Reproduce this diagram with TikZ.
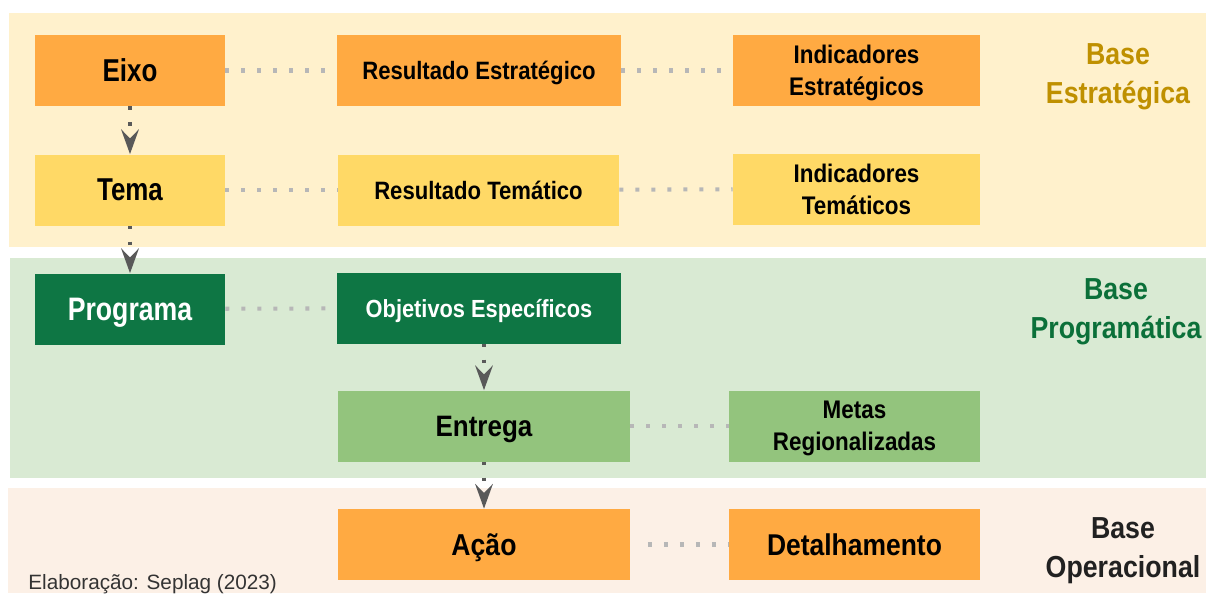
\documentclass[tikz,border=0pt]{standalone}
\usepackage{fontspec}
\setmainfont{Liberation Sans}
\newfontfamily\condfont[FakeStretch=0.82]{Liberation Sans}
\newfontfamily\condfontb[FakeStretch=0.88]{Liberation Sans}
\usetikzlibrary{arrows.meta}
\definecolor{estbg}{HTML}{FFF1CC}
\definecolor{progbg}{HTML}{D9EAD3}
\definecolor{operbg}{HTML}{FCF0E6}
\definecolor{laranja}{HTML}{FFAA42}
\definecolor{amarelo}{HTML}{FFD966}
\definecolor{verdeesc}{HTML}{0E7644}
\definecolor{verdecla}{HTML}{93C47D}
\definecolor{ouro}{HTML}{BF9000}
\definecolor{verdetxt}{HTML}{0B7039}
\definecolor{pontos}{HTML}{B7B7B7}
\definecolor{seta}{HTML}{595959}
\tikzset{box/.style={rectangle, inner sep=0pt, minimum height=1.42cm, text depth=0pt, align=center, font=\condfontb\bfseries}}
\tikzset{link/.style={draw=pontos, line width=2.3pt, dash pattern=on 2.3pt off 6.8pt}}
\tikzset{flow/.style={draw=seta, line width=2pt, dash pattern=on 2pt off 7pt, -{Stealth[length=14pt, width=10pt, inset=5pt]}}}
\tikzset{base/.style={align=center, text depth=0pt, font=\condfontb\bfseries\fontsize{17.3}{22.5}\selectfont}}

\begin{document}
\begin{tikzpicture}[x=0.02cm, y=-0.02cm]
            \useasboundingbox (0, 0) rectangle (1206, 593);
            % faixas
            \fill[estbg] (9, 13) rectangle (1206, 247);
            \fill[progbg] (10, 258) rectangle (1206, 478);
            \fill[operbg] (8, 488) rectangle (1206, 593);
            % base estrategica
            \node[box, fill=laranja, minimum width=3.8cm, font=\condfont\bfseries\fontsize{18}{20}\selectfont] (eixo) at (130, 70.5) {Eixo};
            \node[box, fill=laranja, minimum width=5.68cm, font=\condfontb\bfseries\fontsize{14.3}{16}\selectfont] (resest) at (479, 70.5) {Resultado Estratégico};
            \node[box, fill=laranja, minimum width=4.94cm, font=\condfontb\bfseries\fontsize{14.5}{18}\selectfont] (indest) at (856.5, 70.5) {Indicadores\\Estratégicos};
            \node[box, fill=amarelo, minimum width=3.8cm, font=\condfont\bfseries\fontsize{18}{20}\selectfont] (tema) at (130, 190) {Tema};
            \node[box, fill=amarelo, minimum width=5.62cm, font=\condfontb\bfseries\fontsize{14.3}{16}\selectfont] (restem) at (478.5, 190) {Resultado Temático};
            \node[box, fill=amarelo, minimum width=4.94cm, font=\condfontb\bfseries\fontsize{14.5}{18}\selectfont] (indtem) at (856.5, 189) {Indicadores\\Temáticos};
            % base programatica
            \node[box, fill=verdeesc, text=white, minimum width=3.8cm, font=\condfont\bfseries\fontsize{18.5}{20}\selectfont] (programa) at (130, 309) {Programa};
            \node[box, fill=verdeesc, text=white, minimum width=5.68cm, font=\condfontb\bfseries\fontsize{14.1}{16}\selectfont] (objetivos) at (479, 308) {Objetivos Específicos};
            \node[box, fill=verdecla, minimum width=5.84cm, font=\condfontb\bfseries\fontsize{16.8}{20}\selectfont] (entrega) at (484, 426) {Entrega};
            \node[box, fill=verdecla, minimum width=5.02cm, font=\condfontb\bfseries\fontsize{14.5}{18}\selectfont] (metas) at (854.5, 426) {Metas\\Regionalizadas};
            % base operacional
            \node[box, fill=laranja, minimum width=5.84cm, font=\condfontb\bfseries\fontsize{17.2}{20}\selectfont] (acao) at (484, 544.5) {Ação};
            \node[box, fill=laranja, minimum width=5.02cm, font=\condfontb\bfseries\fontsize{17.1}{20}\selectfont] (detalhe) at (854.5, 544.5) {Detalhamento};
            % rotulos
            \node[base, text=ouro] (lblest) at (1118, 73.5) {Base\\Estratégica};
            \node[base, text=verdetxt] (lblprog) at (1116, 308.5) {Base\\Programática};
            \node[base, text=black!87] (lbloper) at (1123, 547.5) {Base\\Operacional};
            \node[anchor=base west, inner sep=0pt, text=black!80, font=\fontsize{11.8}{13}\selectfont] (fonte) at (28, 589) {Elaboração: Seplag (2023)};
            % ligacoes
            \draw[link] (eixo) -- (resest);
            \draw[link] (resest) -- (indest);
            \draw[link] (tema) -- (restem);
            \draw[link] (restem) -- (indtem);
            \draw[link] (programa) -- (objetivos);
            \draw[link] (entrega) -- (metas);
            \draw[link, shorten <=10] (acao) -- (detalhe);
            % setas
            \draw[flow] (eixo) -- (tema);
            \draw[flow] (tema) -- (programa);
            \draw[flow] (objetivos.south -| entrega) -- (entrega);
            \draw[flow] (entrega) -- (acao);
        \end{tikzpicture}
\end{document}
